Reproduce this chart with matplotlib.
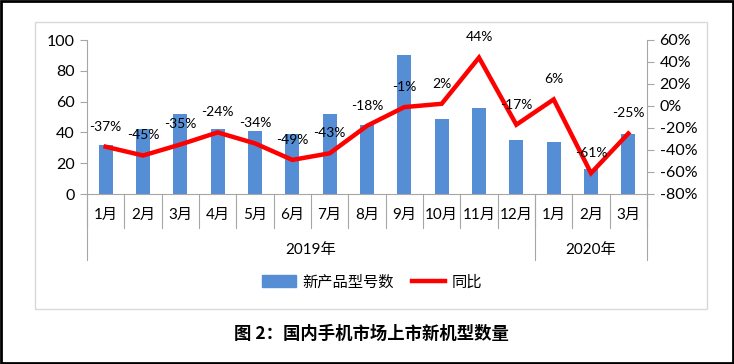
import matplotlib
matplotlib.use("Agg")
import matplotlib.pyplot as plt
from matplotlib.patches import Rectangle
from matplotlib.lines import Line2D
import matplotlib.transforms as mtransforms

plt.rcParams['font.family'] = ['Lato', 'Noto Sans CJK SC', 'DejaVu Sans']

months = ["1月", "2月", "3月", "4月", "5月", "6月", "7月", "8月", "9月", "10月", "11月", "12月", "1月", "2月", "3月"]
years = ["2019年", "2020年"]
year_counts = [12, 3]
new_models = [32, 42, 52, 42, 41, 39, 52, 45, 90, 49, 56, 35, 34, 16, 39]
yoy = [-37, -45, -35, -24, -34, -49, -43, -18, -1, 2, 44, -17, 6, -61, -25]
bar_label = "新产品型号数"
line_label = "同比"
title = "图 2：国内手机市场上市新机型数量"

W, H = 734, 364
fig = plt.figure(figsize=(W / 100, H / 100), dpi=100)

# outer black frame and inner chart frame
fig.patches.append(Rectangle((0.001, 0.002), 0.997, 0.995, transform=fig.transFigure,
                             fill=False, edgecolor='black', lw=2))
fig.patches.append(Rectangle((35 / W, 1 - 309 / H), (707 - 35) / W, (309 - 22) / H,
                             transform=fig.transFigure, fill=False, edgecolor='#D9D9D9', lw=1))

ax = fig.add_axes([87 / W, 1 - 194 / H, (647 - 87) / W, (194 - 40) / H])
x = list(range(len(months)))
ax.bar(x, new_models, width=0.38, color='#558ED5', zorder=2)
ax.set_xlim(-0.5, len(months) - 0.5)
ax.set_ylim(0, 100)
ax.set_yticks(range(0, 101, 20))
ax.tick_params(axis='y', labelsize=11.5, length=5, color='#A6A6A6', pad=4)
ax.set_xticks([])
for s in ['top', 'right']:
    ax.spines[s].set_visible(False)
for s in ['left', 'bottom']:
    ax.spines[s].set_color('#A6A6A6')

ax2 = ax.twinx()
ax2.plot(x, yoy, color='#FF0000', lw=3.2, zorder=3, solid_joinstyle='miter')
ax2.set_ylim(-80, 60)
ax2.set_yticks(range(-80, 61, 20))
ax2.set_yticklabels([f"{v}%" for v in range(-80, 61, 20)])
ax2.tick_params(axis='y', labelsize=11.5, length=5, color='#A6A6A6', pad=4)
for s in ['top', 'left', 'bottom']:
    ax2.spines[s].set_visible(False)
ax2.spines['right'].set_color('#A6A6A6')
ax2.set_xlim(-0.5, len(months) - 0.5)

for xi, v in zip(x, yoy):
    ax2.annotate(f"{v}%", (xi, v), xytext=(0, 14.5), textcoords='offset points',
                 ha='center', va='center', fontsize=10, zorder=5)

# category axis labels
trans = mtransforms.blended_transform_factory(ax.transData, ax.transAxes)
for xi, m in zip(x, months):
    ax.text(xi, -0.135, m, transform=trans, ha='center', va='center', fontsize=11)
# small separators between months
for i in range(len(months) + 1):
    ax.plot([i - 0.5, i - 0.5], [0, -0.22], transform=trans, color='#A6A6A6', lw=0.8, clip_on=False)
# long separators and year labels
start = 0
for yl, c in zip(years, year_counts):
    ax.plot([start - 0.5, start - 0.5], [0, -0.43], transform=trans, color='#A6A6A6', lw=0.8, clip_on=False)
    ax.text(start + (c - 1) / 2, -0.365, yl, transform=trans, ha='center', va='center', fontsize=11)
    start += c
ax.plot([start - 0.5, start - 0.5], [0, -0.43], transform=trans, color='#A6A6A6', lw=0.8, clip_on=False)

# legend
handles = [Rectangle((0, 0), 1, 1, color='#558ED5'), Line2D([0], [0], color='#FF0000', lw=3.2)]
fig.legend(handles, [bar_label, line_label], loc='center', bbox_to_anchor=(372 / W, 1 - 282 / H),
           ncol=2, frameon=False, fontsize=11, handlelength=2.2, handleheight=0.9,
           columnspacing=1.2, handletextpad=0.4)

fig.text(371 / W, 1 - 334 / H, title, ha='center', va='center', fontsize=12.5, fontweight='bold',
         family=['Noto Sans CJK SC', 'DejaVu Sans'])

fig.savefig("out.png", dpi=100)
